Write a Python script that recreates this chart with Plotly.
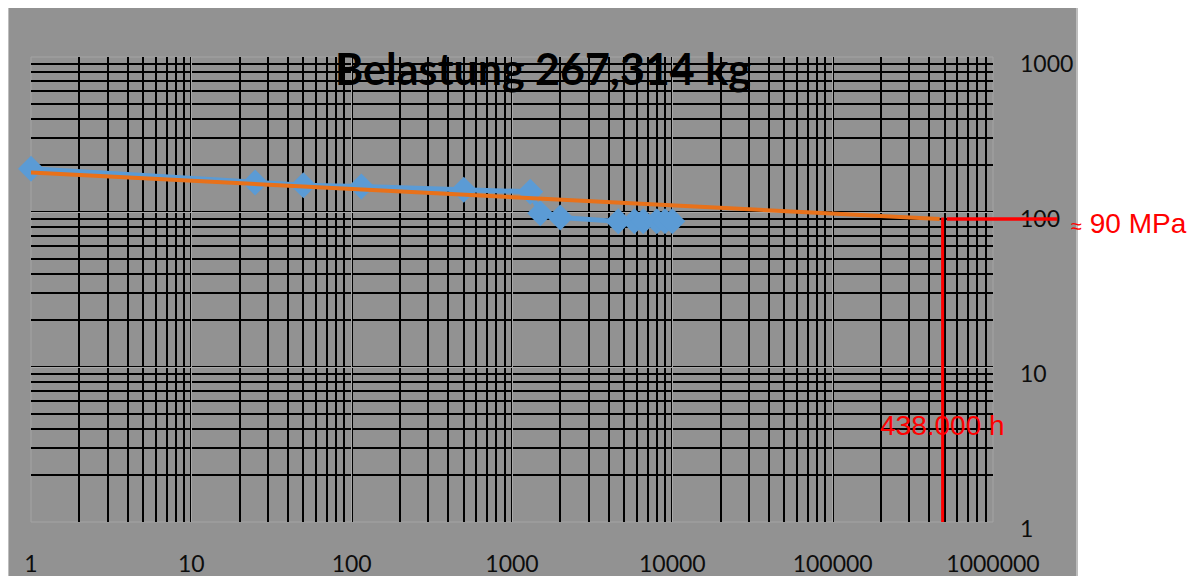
import math
import plotly.graph_objects as go

# ---- data ----
hours = [1, 25, 50, 115, 500, 1300, 1500, 2000, 4600, 5800, 6600, 8000, 9000, 10000]
stress = [190, 155, 149, 146, 139, 135, 98, 92, 87, 87, 87, 87, 87, 87]

trend_x = [1, 465000]
trend_y = [180, 90]

x_tickvals = [1, 10, 100, 1000, 10000, 100000, 1000000]
x_ticktext = ["1", "10", "100", "1000", "10000", "100000", "1000000"]
y_tickvals = [1, 10, 100, 1000]
y_ticktext = ["1", "10", "100", "1000"]

red_x = 485000          # vertical marker position
red_y_top = 92
red_h_x = [515000, 1000000]
red_h_y = 90

title_text = "Belastung 267,314 kg"
hours_label = "438.000 h"
stress_label = "<span style='font-size:20px'>≈</span> 90 MPa"

GRAY = "#929292"

fig = go.Figure()

fig.add_trace(go.Scatter(
    x=hours, y=stress, mode="lines+markers",
    line=dict(color="#5B9BD5", width=5),
    marker=dict(symbol="diamond", size=20, color="#5B9BD5", line=dict(width=0)),
    cliponaxis=False, showlegend=False, hoverinfo="skip"))

fig.add_trace(go.Scatter(
    x=trend_x, y=trend_y, mode="lines",
    line=dict(color="#E8711A", width=4),
    showlegend=False, hoverinfo="skip"))

fig.add_trace(go.Scatter(
    x=[red_x, red_x], y=[1, red_y_top], mode="lines",
    line=dict(color="#FF0000", width=3),
    showlegend=False, hoverinfo="skip"))

fig.add_trace(go.Scatter(
    x=red_h_x, y=[red_h_y, red_h_y], mode="lines",
    line=dict(color="#FF0000", width=3.5),
    showlegend=False, hoverinfo="skip"))

W, H = 1204, 576
OFF = 8  # page body margin
ml, mr, mt, mb = 23, 219, 49, 62
pw, ph = W - ml - mr, H - mt - mb

def px_x(p):
    return (p - OFF - ml) / pw

def px_y(p):
    return (H - mb - (p - OFF)) / ph

shapes = [
    # outer chart area
    dict(type="rect", xref="paper", yref="paper",
         x0=px_x(8), x1=px_x(1077), y0=px_y(640), y1=px_y(7),
         fillcolor=GRAY, line=dict(color="#bdbdbd", width=2), layer="below"),
    # plot area border
    dict(type="rect", xref="paper", yref="paper", x0=0, x1=1, y0=0, y1=1,
         line=dict(color="#a4a4a4", width=1), layer="below"),
    # red line continuing past the plot area
    dict(type="line", xref="paper", yref="y", x0=1, x1=px_x(1057),
         y0=red_h_y, y1=red_h_y, line=dict(color="#FF0000", width=3.5)),
]

annotations = [
    dict(text=f"<b>{title_text}</b>", xref="paper", yref="paper",
         x=px_x(543), y=px_y(68), xanchor="center", yanchor="middle",
         showarrow=False, font=dict(family="Lato", size=43, color="#000000")),
    dict(text=hours_label, xref="x", yref="y",
         x=math.log10(red_x), y=math.log10(4.2), xanchor="center", yanchor="middle",
         showarrow=False, font=dict(family="Liberation Sans", size=28, color="#FF0000")),
    dict(text=stress_label, xref="paper", yref="y",
         x=px_x(1069), y=math.log10(84), xanchor="left", yanchor="middle",
         showarrow=False, font=dict(family="Liberation Sans", size=28, color="#FF0000")),
]

fig.update_layout(
    width=W, height=H,
    margin=dict(l=ml, r=mr, t=mt, b=mb, pad=0, autoexpand=False),
    paper_bgcolor="white",
    plot_bgcolor="rgba(0,0,0,0)",
    shapes=shapes,
    annotations=annotations,
    showlegend=False,
)

fig.update_xaxes(
    type="log", range=[0, 6], automargin=False,
    tickmode="array", tickvals=x_tickvals, ticktext=x_ticktext,
    showgrid=True, gridcolor="#a8a8a8", gridwidth=1,
    minor=dict(dtick="D1", showgrid=True, gridcolor="#000000", gridwidth=2, ticks=""),
    ticks="", showline=False, zeroline=False,
    tickfont=dict(family="Lato", size=23, color="#0d0d0d"),
    ticklabelstandoff=26,
)
fig.update_yaxes(
    type="log", range=[0, 3], side="right", automargin=False,
    tickmode="array", tickvals=y_tickvals, ticktext=y_ticktext,
    showgrid=True, gridcolor="#a8a8a8", gridwidth=1,
    minor=dict(dtick="D1", showgrid=True, gridcolor="#000000", gridwidth=2, ticks=""),
    ticks="", showline=False, zeroline=False,
    tickfont=dict(family="Lato", size=23, color="#0d0d0d"),
    ticklabelstandoff=26, ticklabelshift=7,
)

fig.write_html("out.html")
